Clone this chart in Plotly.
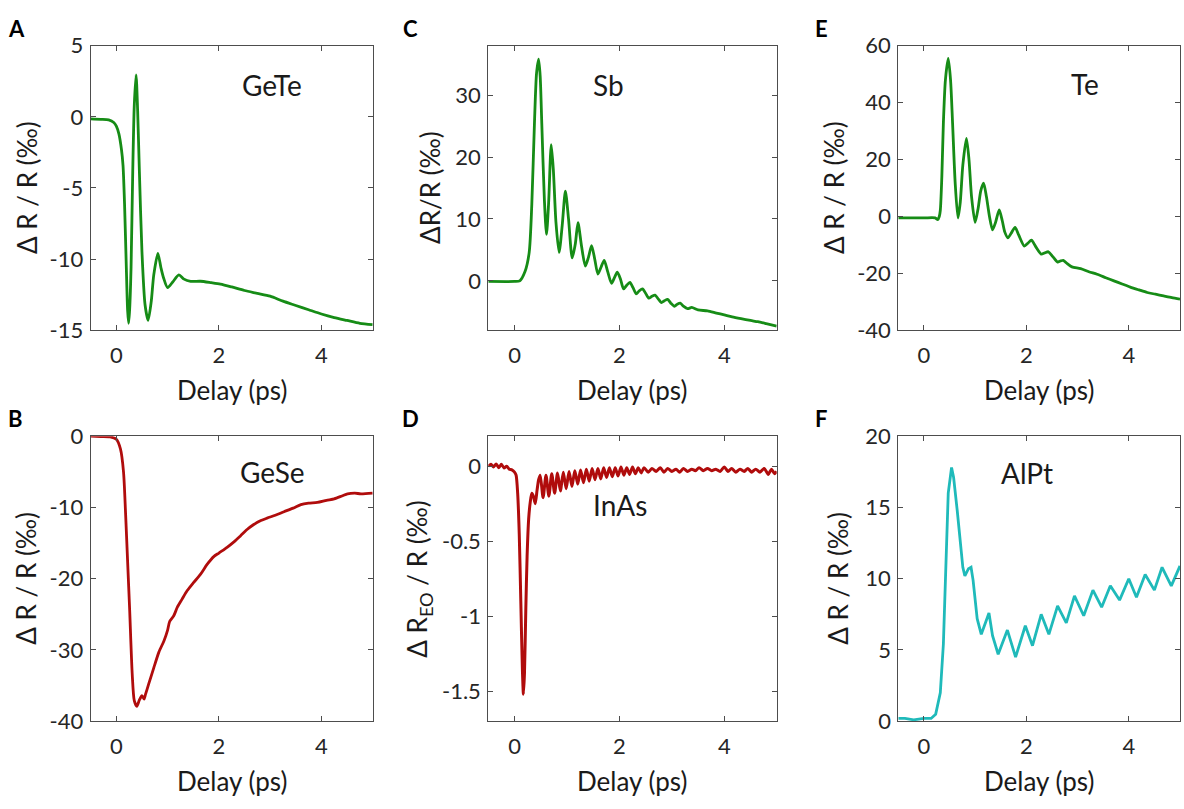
import plotly.graph_objects as go

# ---------------- data ----------------
# A: GeTe
gete_x = [-0.5, -0.3, -0.15, -0.05, 0.0, 0.05, 0.1, 0.13, 0.16, 0.195, 0.22, 0.24, 0.26, 0.287, 0.32, 0.35,
          0.385, 0.415, 0.45, 0.50, 0.56, 0.62, 0.68, 0.73, 0.81, 0.87, 0.92, 1.0, 1.1, 1.22, 1.32, 1.45,
          1.64, 1.85, 2.03, 2.25, 2.5, 2.75, 3.0, 3.25, 3.5, 3.75, 4.0, 4.25, 4.5, 4.75, 5.0]
gete_y = [-0.15, -0.18, -0.22, -0.4, -0.65, -1.2, -2.3, -3.4, -6.1, -10.6, -13.6, -14.5, -13.5, -10.6, -3.85, 0.8,
          2.95, 0.5, -3.9, -9.5, -13.2, -14.3, -13.0, -11.1, -9.6, -10.6, -11.3, -12.0, -11.6, -11.1, -11.4, -11.55,
          -11.55, -11.65, -11.75, -11.95, -12.2, -12.4, -12.6, -12.95, -13.25, -13.55, -13.85, -14.1, -14.3, -14.5, -14.6]

# C: Sb
sb_x = [-0.5, 0.0, 0.1, 0.2, 0.28, 0.33, 0.38, 0.42, 0.46, 0.49, 0.52, 0.57, 0.61, 0.65, 0.70, 0.74, 0.79, 0.85,
        0.91, 0.97, 1.03, 1.10, 1.16, 1.21, 1.28, 1.35, 1.41, 1.47, 1.53, 1.59, 1.65, 1.71, 1.78, 1.85, 1.91,
        1.96, 2.02, 2.08, 2.14, 2.20, 2.26, 2.32, 2.38, 2.44, 2.50, 2.56, 2.62, 2.68, 2.74, 2.80, 2.86, 2.92,
        2.98, 3.05, 3.10, 3.16, 3.22, 3.30, 3.38, 3.5, 3.68, 3.85, 4.0, 4.15, 4.32, 4.5, 4.64, 4.8, 5.0]
sb_y = [-0.1, -0.1, 0.0, 1.5, 4.6, 12.4, 25.4, 33.5, 35.8, 33.0, 25.4, 13.0, 7.5, 12.5, 22.0, 18.0, 9.5, 4.6,
        9.0, 14.5, 10.0, 3.7, 6.0, 9.4, 5.5, 2.4, 3.8, 5.7, 3.5, 1.1, 2.2, 3.3, 1.4, -0.4, 0.6,
        1.4, 0.3, -1.3, -0.7, -0.25, -1.1, -2.1, -1.6, -1.3, -2.0, -2.8, -2.5, -2.3, -2.9, -3.5, -3.2, -3.0,
        -3.6, -4.1, -3.8, -3.6, -4.1, -4.5, -4.3, -4.7, -4.85, -5.2, -5.5, -5.8, -6.1, -6.4, -6.6, -6.9, -7.3]

# E: Te
te_x = [-0.5, 0.0, 0.22, 0.27, 0.30, 0.32, 0.35, 0.38, 0.42, 0.475, 0.52, 0.56, 0.61, 0.665, 0.71, 0.76, 0.83,
        0.88, 0.93, 1.0, 1.06, 1.11, 1.165, 1.22, 1.28, 1.34, 1.40, 1.47, 1.53, 1.58, 1.64, 1.70, 1.78, 1.85,
        1.96, 2.03, 2.1, 2.18, 2.29, 2.36, 2.43, 2.52, 2.61, 2.67, 2.72, 2.8, 2.89, 3.06, 3.22, 3.38, 3.55,
        3.71, 3.87, 4.03, 4.2, 4.36, 4.52, 4.68, 4.84, 5.0]
te_y = [-0.5, -0.5, -0.5, -1.1, 0.0, 2.1, 14.0, 32.7, 48.0, 55.5, 48.0, 32.7, 12.0, -0.5, 5.0, 18.0, 27.4,
        20.0, 7.0, -2.1, 3.0, 9.0, 11.7, 7.0, 0.0, -4.7, -2.0, 2.3, -1.5, -5.5, -7.5, -6.0, -3.8, -6.5,
        -10.4, -9.4, -8.3, -10.5, -13.2, -12.8, -12.4, -14.2, -16.0, -15.6, -15.4, -16.6, -17.7, -18.3, -19.4, -20.3, -21.5,
        -22.6, -23.7, -24.8, -25.8, -26.7, -27.3, -27.9, -28.5, -29.0]

# B: GeSe
gese_x = [-0.5, -0.3, -0.12, 0.0, 0.08, 0.14, 0.18, 0.22, 0.26, 0.31, 0.35, 0.40, 0.45, 0.50, 0.54, 0.57, 0.63,
          0.73, 0.83, 0.93, 1.0, 1.04, 1.12, 1.19, 1.28, 1.38, 1.5, 1.64, 1.77, 1.90, 2.0, 2.16, 2.3, 2.42,
          2.55, 2.68, 2.8, 2.94, 3.1, 3.27, 3.45, 3.60, 3.75, 3.92, 4.1, 4.25, 4.4, 4.51, 4.65, 4.77, 5.0]
gese_y = [0.0, -0.05, -0.1, -0.45, -1.8, -5.0, -10.8, -17.6, -24.4, -33.4, -37.1, -37.9, -37.0, -36.4, -36.9, -36.2, -34.8,
          -32.5, -30.3, -28.7, -27.2, -26.0, -25.2, -24.0, -22.9, -21.7, -20.6, -19.4, -18.0, -16.9, -16.4, -15.6, -14.8, -14.0,
          -13.1, -12.4, -11.9, -11.5, -11.1, -10.6, -10.1, -9.6, -9.4, -9.3, -9.0, -8.8, -8.4, -8.1, -8.0, -8.1, -8.0]

# D: InAs
inas_x = [-0.5, -0.45, -0.4, -0.35, -0.3, -0.25, -0.2, -0.15, -0.1, -0.05, 0.0, 0.03, 0.06, 0.09, 0.12, 0.15,
          0.17, 0.19, 0.215, 0.24, 0.27, 0.30, 0.33, 0.36, 0.395, 0.43, 0.46, 0.49,
          0.545, 0.60, 0.655, 0.71, 0.765, 0.82, 0.875, 0.93, 0.985, 1.04, 1.095, 1.15, 1.205, 1.26,
          1.315, 1.37, 1.425, 1.48, 1.535, 1.59, 1.645, 1.70, 1.755, 1.81, 1.865, 1.92, 1.975, 2.03,
          2.085, 2.14, 2.195, 2.25, 2.305, 2.36, 2.415, 2.47,
          2.55, 2.62, 2.7, 2.78, 2.85, 2.92, 3.0, 3.08, 3.15, 3.22, 3.3, 3.38, 3.45, 3.52, 3.6, 3.68,
          3.76, 3.84, 3.92, 4.0, 4.07, 4.14, 4.22, 4.3, 4.38, 4.45, 4.52, 4.6, 4.68, 4.76, 4.84, 4.9, 4.96, 5.0]
inas_y = [0.0, 0.012, -0.005, 0.015, -0.01, 0.012, -0.012, 0.0, -0.02, -0.025, -0.04, -0.06, -0.18, -0.45, -0.9, -1.35,
          -1.52, -1.38, -0.96, -0.6, -0.35, -0.24, -0.18, -0.2, -0.25, -0.16, -0.09, -0.06,
          -0.21, -0.06, -0.2, -0.05, -0.18, -0.045, -0.165, -0.04, -0.15, -0.035, -0.135, -0.03, -0.12, -0.025,
          -0.11, -0.02, -0.1, -0.015, -0.09, -0.015, -0.085, -0.01, -0.075, -0.01, -0.07, -0.01, -0.065, -0.005,
          -0.06, -0.01, -0.055, -0.005, -0.05, -0.01, -0.045, -0.01,
          -0.04, -0.015, -0.035, -0.01, -0.04, -0.015, -0.035, -0.02, -0.04, -0.015, -0.035, -0.02, -0.03, -0.01, -0.03, -0.015,
          -0.03, -0.02, -0.035, -0.005, -0.035, -0.015, -0.04, -0.02, -0.035, -0.015, -0.04, -0.02, -0.04, -0.015, -0.055, -0.02, -0.05, -0.035]

# F: AlPt
alpt_x = [-0.5, -0.37, -0.2, 0.0, 0.14, 0.23, 0.32, 0.38, 0.43, 0.475, 0.54, 0.58, 0.65, 0.71, 0.76, 0.80, 0.87,
          0.92, 0.96, 1.04, 1.12, 1.20, 1.27, 1.34, 1.45, 1.63, 1.79, 1.98, 2.12, 2.29, 2.44, 2.61, 2.78,
          2.94, 3.12, 3.30, 3.47, 3.64, 3.82, 4.0, 4.15, 4.32, 4.50, 4.65, 4.83, 5.0]
alpt_y = [0.2, 0.2, 0.1, 0.2, 0.2, 0.5, 2.0, 5.4, 11.0, 16.0, 17.8, 17.1, 14.8, 12.6, 10.8, 10.2, 10.7,
          10.8, 9.9, 7.2, 6.1, 6.9, 7.6, 6.0, 4.7, 6.4, 4.5, 6.7, 5.3, 7.5, 6.1, 8.1, 6.9,
          8.8, 7.4, 9.2, 8.0, 9.5, 8.5, 10.0, 8.7, 10.3, 9.2, 10.8, 9.5, 10.9]

x_ticks = [0, 2, 4]
x_ticktext = ["0", "2", "4"]
yticks_A = [-15, -10, -5, 0, 5]
yticks_C = [0, 10, 20, 30]
yticks_E = [-40, -20, 0, 20, 40, 60]
yticks_B = [-40, -30, -20, -10, 0]
yticks_D = [-1.5, -1, -0.5, 0]
yticks_F = [0, 5, 10, 15, 20]

# ---------------- layout geometry ----------------
W, H = 1184, 809
GREEN = "#168c16"
RED = "#b00c0c"
CYAN = "#1fbaba"
FONT = "Lato"
AXC = "#4d4d4d"
TXT = "#262626"

cols = [(90.7, 372.7), (488.3, 776.7), (898.3, 1180.0)]
rows = [(32.7, 327.3), (436.7, 731.7)]

def xd(c):
    return [cols[c][0] / W, cols[c][1] / W]

def yd(r):
    return [1 - rows[r][1] / H, 1 - rows[r][0] / H]

def fmt(v):
    return "%g" % v

panels = [
    (0, 0, gete_x, gete_y, GREEN, [-15, 5], yticks_A, 2.8, "spline", "A", "GeTe", (272, 73), "Δ R / R (‰)", 27),
    (0, 1, sb_x, sb_y, GREEN, [-8, 38], yticks_C, 2.8, "spline", "C", "Sb", (608, 73), "ΔR/R (‰)", 430),
    (0, 2, te_x, te_y, GREEN, [-40, 60], yticks_E, 2.8, "spline", "E", "Te", (1085, 72), "Δ R / R (‰)", 834),
    (1, 0, gese_x, gese_y, RED, [-40, 0], yticks_B, 2.8, "spline", "B", "GeSe", (272, 474), "Δ R / R (‰)", 26),
    (1, 1, inas_x, inas_y, RED, [-1.7, 0.2], yticks_D, 3.0, "spline", "D", "InAs", (620, 508), "Δ R<sub>EO</sub> / R (‰)", 419),
    (1, 2, alpt_x, alpt_y, CYAN, [0, 20], yticks_F, 2.8, "linear", "F", "AlPt", (1027, 475), "Δ R / R (‰)", 838),
]

letter_pos = {"A": (16, 15), "C": (410, 15), "E": (821, 15),
              "B": (15, 418), "D": (410, 418), "F": (821, 418)}

fig = go.Figure()
annotations = []
layout = dict(
    width=W, height=H,
    margin=dict(l=0, r=0, t=0, b=0),
    paper_bgcolor="white", plot_bgcolor="white",
    showlegend=False,
    font=dict(family=FONT, color=TXT),
)

for i, (r, c, xs, ys, col, yr, yt, lw, shape, letter, label, lpos, ytitle, ytx) in enumerate(panels):
    n = i + 1
    xa = "x" if n == 1 else "x%d" % n
    ya = "y" if n == 1 else "y%d" % n
    line = dict(color=col, width=lw, shape=shape)
    if shape == "spline":
        line["smoothing"] = 0.7
    fig.add_trace(go.Scatter(x=xs, y=ys, mode="lines", line=line, xaxis=xa, yaxis=ya,
                             hoverinfo="skip"))
    common = dict(showline=True, mirror="ticks", linecolor=AXC, linewidth=1,
                  ticks="inside", ticklen=5, tickwidth=1, tickcolor=AXC,
                  showgrid=False, zeroline=False,
                  tickfont=dict(family=FONT, size=22, color=TXT))
    layout["xaxis" if n == 1 else "xaxis%d" % n] = dict(
        domain=xd(c), range=[-0.5, 5], anchor=ya, tickmode="array",
        tickvals=x_ticks, ticktext=x_ticktext, ticklabelstandoff=5, **common)
    layout["yaxis" if n == 1 else "yaxis%d" % n] = dict(
        domain=yd(r), range=yr, anchor=xa, tickmode="array",
        tickvals=yt, ticktext=[fmt(v) for v in yt], ticklabelstandoff=2, **common)

    lp = letter_pos[letter]
    annotations.append(dict(text="<b>%s</b>" % letter, x=lp[0] / W, y=1 - lp[1] / H,
                            xref="paper", yref="paper", showarrow=False, xanchor="center", yanchor="middle",
                            font=dict(family=FONT, size=22, color="black")))
    annotations.append(dict(text=label, x=lpos[0] / W, y=1 - lpos[1] / H, xref="paper", yref="paper",
                            showarrow=False, xanchor="center", yanchor="middle",
                            font=dict(family=FONT, size=28, color="#1a1a1a")))
    xt_y = rows[r][1] + 62
    annotations.append(dict(text="Delay (ps)", x=(cols[c][0] + cols[c][1]) / 2 / W, y=1 - xt_y / H,
                            xref="paper", yref="paper", showarrow=False, xanchor="center", yanchor="middle",
                            font=dict(family=FONT, size=26, color="#1a1a1a")))
    annotations.append(dict(text=ytitle, x=ytx / W, y=1 - (rows[r][0] + rows[r][1]) / 2 / H,
                            xref="paper", yref="paper", showarrow=False, xanchor="center", yanchor="middle",
                            textangle=-90, font=dict(family=FONT, size=26, color="#1a1a1a")))

layout["annotations"] = annotations
fig.update_layout(**layout)
fig.write_html("out.html")
